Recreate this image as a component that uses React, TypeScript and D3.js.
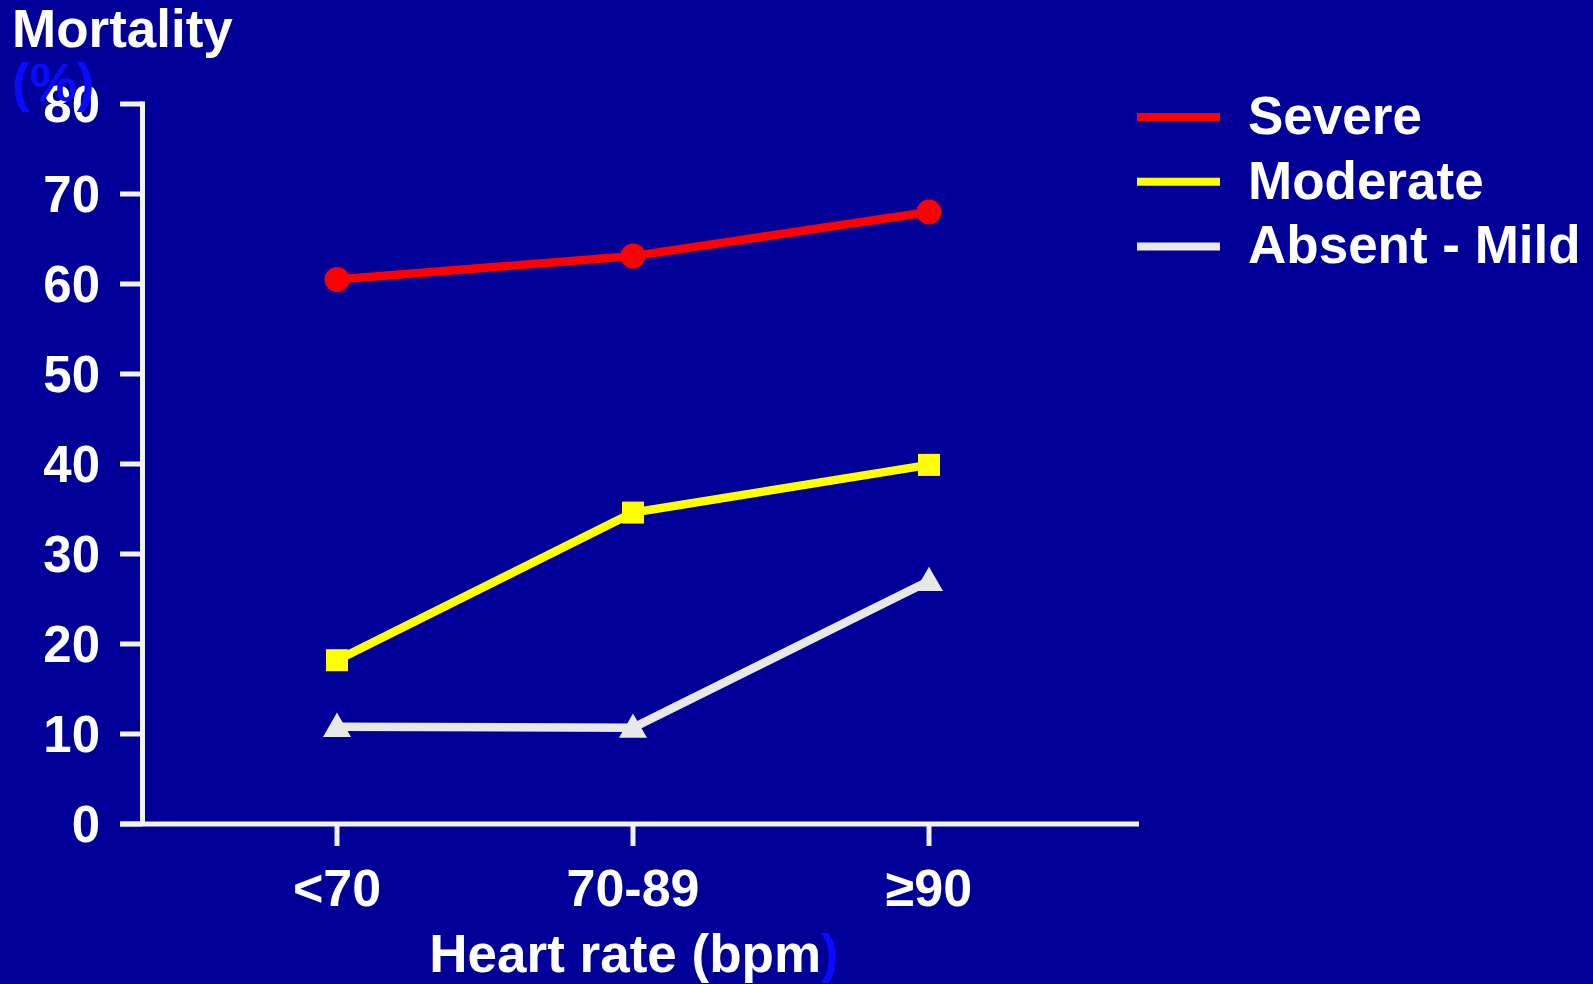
import React, { useEffect } from "react";
import * as d3 from "d3";

const categories = ["<70", "70-89", "≥90"];
const yTicks = [0, 10, 20, 30, 40, 50, 60, 70, 80];
const severe = [60.5, 63.1, 68.0];
const moderate = [18.2, 34.6, 39.9];
const absentMild = [10.8, 10.7, 27.0];
const seriesNames = ["Severe", "Moderate", "Absent - Mild"];
const seriesColors = ["#ff0000", "#ffff00", "#e8e8e8"];
const seriesShapes = ["circle", "square", "triangle"];

const W = 1593;
const H = 984;
const BG = "#000099";
const FONT = "'Liberation Sans', Arial, Helvetica, sans-serif";

export default function App() {
  useEffect(() => {
    document.body.style.margin = "0";
    document.body.style.background = BG;
  }, []);

  const x = d3.scalePoint<string>().domain(categories).range([337, 929]);
  const y = d3.scaleLinear().domain([0, 80]).range([824, 104]);
  const allSeries = [severe, moderate, absentMild];

  const line = d3
    .line<number>()
    .x((_, i) => x(categories[i]) as number)
    .y((d) => y(d));

  const axisX0 = 142.5;
  const axisY0 = y(0);

  const marker = (shape: string, cx: number, cy: number, color: string, key: string) => {
    if (shape === "circle") return <circle key={key} cx={cx} cy={cy} r={12.5} fill={color} />;
    if (shape === "square")
      return <rect key={key} x={cx - 11} y={cy - 11} width={22} height={22} fill={color} />;
    const tri = d3.symbol().type(d3.symbolTriangle).size(340)();
    return <path key={key} d={tri as string} transform={`translate(${cx},${cy + 2})`} fill={color} />;
  };

  return (
    <div style={{ position: "absolute", left: 0, top: 0, width: W, height: H, overflow: "hidden" }}>
      <svg width={W} height={H} style={{ display: "block", background: BG }} fontFamily={FONT} fontWeight="bold">
        <rect x={0} y={0} width={W} height={H} fill={BG} />

        {/* Y axis */}
        <line x1={axisX0} x2={axisX0} y1={y(80) - 2.5} y2={axisY0} stroke="#f2f2f2" strokeWidth={5} />
        {yTicks.map((t) => (
          <g key={"yt" + t}>
            <line x1={120} x2={axisX0} y1={y(t)} y2={y(t)} stroke="#f2f2f2" strokeWidth={5} />
            <text x={100} y={y(t) + 18} textAnchor="end" fill="#ffffff" fontSize={51}>
              {t}
            </text>
          </g>
        ))}

        {/* X axis */}
        <line x1={120} x2={1139} y1={axisY0} y2={axisY0} stroke="#f2f2f2" strokeWidth={5} />
        {categories.map((c) => (
          <g key={"xt" + c}>
            <line x1={x(c)} x2={x(c)} y1={axisY0} y2={axisY0 + 22} stroke="#f2f2f2" strokeWidth={5} />
            <text x={x(c)} y={906} textAnchor="middle" fill="#ffffff" fontSize={52}>
              {c}
            </text>
          </g>
        ))}

        {/* Titles */}
        <text x={12} y={47} fill="#ffffff" fontSize={53}>
          Mortality
        </text>
        <text x={12} y={101} fill="#0a0aff" fontSize={53}>
          (%)
        </text>
        <text x={634} y={972} textAnchor="middle" fontSize={53} fill="#ffffff">
          <tspan>Heart rate (bpm</tspan>
          <tspan fill="#0a0aff">)</tspan>
        </text>

        {/* Series */}
        {allSeries.map((s, si) => (
          <g key={"s" + si}>
            <path d={line(s) as string} fill="none" stroke={seriesColors[si]} strokeWidth={8.5} />
            {s.map((v, i) => marker(seriesShapes[si], x(categories[i]) as number, y(v), seriesColors[si], `m${si}-${i}`))}
          </g>
        ))}

        {/* Legend */}
        {seriesNames.map((n, i) => (
          <g key={"lg" + i} transform={`translate(0, ${117 + i * 64.7})`}>
            <line x1={1137} x2={1220} y1={0} y2={0} stroke={seriesColors[i]} strokeWidth={8} />
            <text x={1248} y={17} fill="#ffffff" fontSize={53}>
              {n}
            </text>
          </g>
        ))}
      </svg>
    </div>
  );
}
